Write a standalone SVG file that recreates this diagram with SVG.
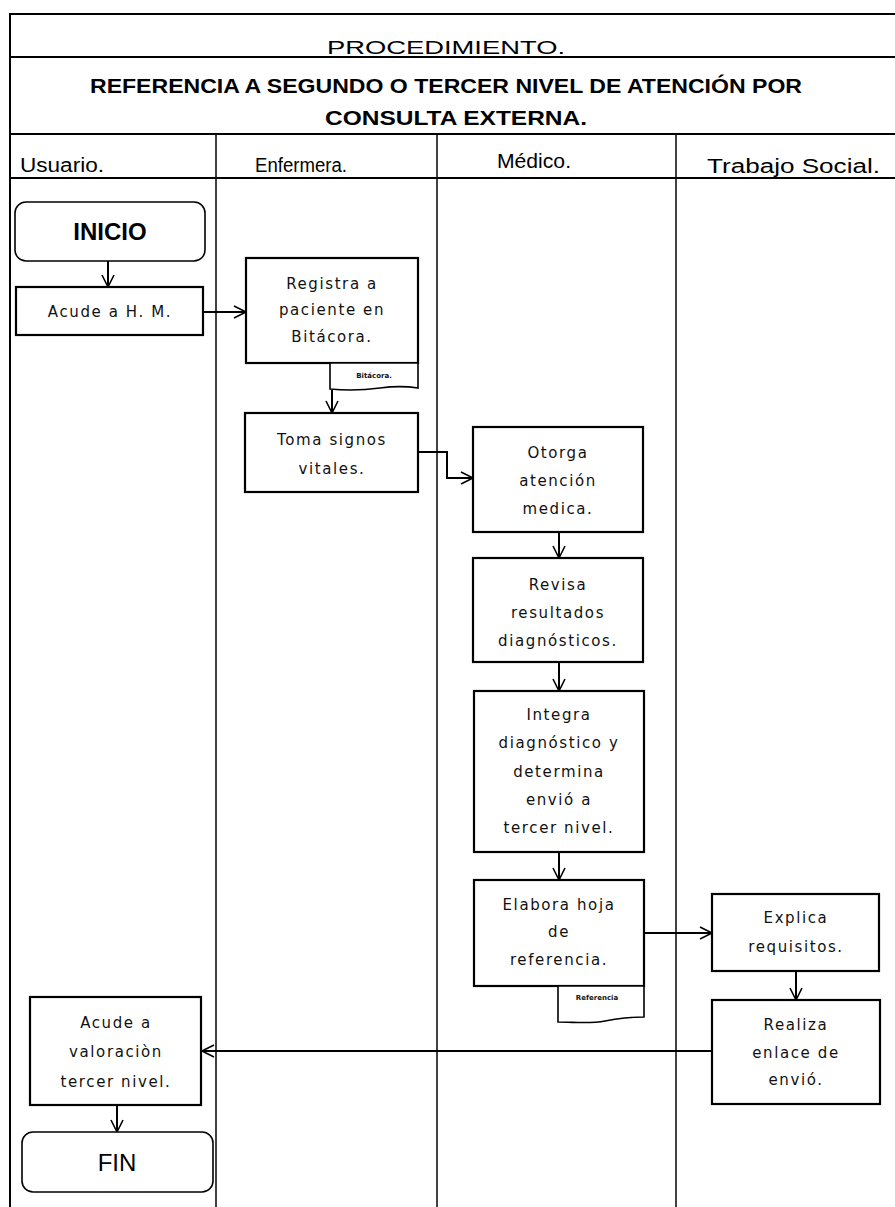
<svg xmlns="http://www.w3.org/2000/svg" width="895" height="1207" viewBox="0 0 895 1207">
  <style>
    .frame { stroke: #000; stroke-width: 2; fill: none; }
    .lane { stroke: #111; stroke-width: 1.6; fill: none; }
    .box { fill: #fff; stroke: #000; stroke-width: 2.2; }
    .term { fill: #fff; stroke: #000; stroke-width: 1.6; }
    .doc { fill: #fff; stroke: #000; stroke-width: 1.6; }
    .conn { stroke: #000; stroke-width: 2; fill: none; marker-end: url(#vhead); }
    .hdr { font-family: "Liberation Sans", Arial, sans-serif; fill: #000; }
    .t { font-family: "DejaVu Sans", Verdana, sans-serif; font-size: 15px; letter-spacing: 1.6px; fill: #111; text-anchor: middle; }
    .big { font-family: "Liberation Sans", Arial, sans-serif; font-size: 24px; fill: #000; text-anchor: middle; }
    .tiny { font-family: "DejaVu Sans", Verdana, sans-serif; font-size: 7px; font-weight: bold; fill: #111; text-anchor: middle; }
  </style>
  <defs>
    <marker id="vhead" markerUnits="userSpaceOnUse" markerWidth="16" markerHeight="16" refX="13" refY="7" orient="auto">
      <path d="M1,1 L13,7 L1,13" fill="none" stroke="#000" stroke-width="1.6"/>
    </marker>
  </defs>

  <rect width="895" height="1207" fill="#fff"/>

  <!-- table header and swimlanes -->
  <g id="table">
    <line class="frame" x1="10" y1="14" x2="895" y2="14"/>
    <line class="frame" x1="10" y1="57" x2="895" y2="57"/>
    <line class="frame" x1="10" y1="134" x2="895" y2="134"/>
    <line class="frame" x1="10" y1="178" x2="895" y2="178"/>
    <line class="frame" x1="10" y1="13" x2="10" y2="1207"/>
    <line class="lane" x1="216" y1="134" x2="216" y2="1207"/>
    <line class="lane" x1="437" y1="134" x2="437" y2="1207"/>
    <line class="lane" x1="676" y1="134" x2="676" y2="1207"/>
    <text class="hdr" x="446" y="54" font-size="19" text-anchor="middle" textLength="238" lengthAdjust="spacingAndGlyphs">PROCEDIMIENTO.</text>
    <text class="hdr" x="446" y="93" font-size="21" font-weight="bold" text-anchor="middle" textLength="712" lengthAdjust="spacingAndGlyphs">REFERENCIA A SEGUNDO O TERCER NIVEL DE ATENCIÓN POR</text>
    <text class="hdr" x="456" y="125" font-size="21" font-weight="bold" text-anchor="middle" textLength="262" lengthAdjust="spacingAndGlyphs">CONSULTA EXTERNA.</text>
    <text class="hdr" x="20" y="172" font-size="20" textLength="84" lengthAdjust="spacingAndGlyphs">Usuario.</text>
    <text class="hdr" x="255" y="172" font-size="20" textLength="92" lengthAdjust="spacingAndGlyphs">Enfermera.</text>
    <text class="hdr" x="497" y="168" font-size="20" textLength="74" lengthAdjust="spacingAndGlyphs">Médico.</text>
    <text class="hdr" x="707" y="173" font-size="20" textLength="173" lengthAdjust="spacingAndGlyphs">Trabajo Social.</text>
  </g>

  <!-- connectors -->
  <g id="connectors">
    <line class="conn" x1="108" y1="261" x2="108" y2="287"/>
    <line class="conn" x1="203" y1="312" x2="246" y2="312"/>
    <line class="conn" x1="332" y1="390" x2="332" y2="413"/>
    <polyline class="conn" points="418,452 447,452 447,478 473,478"/>
    <line class="conn" x1="559" y1="532" x2="559" y2="558"/>
    <line class="conn" x1="559" y1="662" x2="559" y2="691"/>
    <line class="conn" x1="559" y1="852" x2="559" y2="880"/>
    <line class="conn" x1="644" y1="933" x2="712" y2="933"/>
    <line class="conn" x1="796" y1="971" x2="796" y2="1000"/>
    <line class="conn" x1="712" y1="1051" x2="202" y2="1051"/>
    <line class="conn" x1="117" y1="1105" x2="117" y2="1132"/>
  </g>

  <g id="inicio">
    <rect class="term" x="15" y="202" width="190" height="59" rx="11"/>
    <text class="big" x="110" y="240" font-weight="bold">INICIO</text>
  </g>

  <g id="acude-hm">
    <rect class="box" x="16" y="287" width="187" height="48"/>
    <text class="t" x="110" y="317">Acude a H. M.</text>
  </g>

  <g id="registra">
    <rect class="box" x="246" y="258" width="172" height="105"/>
    <text class="t" x="332" y="289">Registra a</text>
    <text class="t" x="332" y="315">paciente en</text>
    <text class="t" x="332" y="342">Bitácora.</text>
  </g>

  <g id="doc-bitacora">
    <path class="doc" d="M330,363 H418 V388 C405,386 395,386 380,388 C365,390 350,391 330,389 Z"/>
    <text class="tiny" x="374" y="378">Bitácora.</text>
  </g>

  <g id="toma-signos">
    <rect class="box" x="245" y="413" width="173" height="79"/>
    <text class="t" x="332" y="445">Toma signos</text>
    <text class="t" x="332" y="474">vitales.</text>
  </g>

  <g id="otorga">
    <rect class="box" x="473" y="427" width="170" height="105"/>
    <text class="t" x="558" y="458">Otorga</text>
    <text class="t" x="558" y="486">atención</text>
    <text class="t" x="558" y="514">medica.</text>
  </g>

  <g id="revisa">
    <rect class="box" x="473" y="558" width="170" height="104"/>
    <text class="t" x="558" y="590">Revisa</text>
    <text class="t" x="558" y="618">resultados</text>
    <text class="t" x="558" y="646">diagnósticos.</text>
  </g>

  <g id="integra">
    <rect class="box" x="474" y="691" width="170" height="161"/>
    <text class="t" x="559" y="720">Integra</text>
    <text class="t" x="559" y="748">diagnóstico y</text>
    <text class="t" x="559" y="777">determina</text>
    <text class="t" x="559" y="805">envió a</text>
    <text class="t" x="559" y="833">tercer nivel.</text>
  </g>

  <g id="elabora">
    <rect class="box" x="474" y="880" width="170" height="106"/>
    <text class="t" x="559" y="910">Elabora hoja</text>
    <text class="t" x="559" y="937">de</text>
    <text class="t" x="559" y="965">referencia.</text>
  </g>

  <g id="doc-referencia">
    <path class="doc" d="M558,986 H644 V1017 C630,1017 620,1018 605,1021 C590,1024 575,1022 558,1022 Z"/>
    <text class="tiny" x="597" y="1000">Referencia</text>
  </g>

  <g id="explica">
    <rect class="box" x="712" y="894" width="167" height="77"/>
    <text class="t" x="796" y="923">Explica</text>
    <text class="t" x="796" y="952">requisitos.</text>
  </g>

  <g id="realiza">
    <rect class="box" x="712" y="1000" width="168" height="104"/>
    <text class="t" x="796" y="1030">Realiza</text>
    <text class="t" x="796" y="1058">enlace de</text>
    <text class="t" x="796" y="1085">envió.</text>
  </g>

  <g id="acude-valoracion">
    <rect class="box" x="30" y="997" width="171" height="108"/>
    <text class="t" x="116" y="1028">Acude a</text>
    <text class="t" x="116" y="1057">valoraciòn</text>
    <text class="t" x="116" y="1087">tercer nivel.</text>
  </g>

  <g id="fin">
    <rect class="term" x="22" y="1132" width="191" height="60" rx="11"/>
    <text class="big" x="117" y="1171">FIN</text>
  </g>
</svg>
